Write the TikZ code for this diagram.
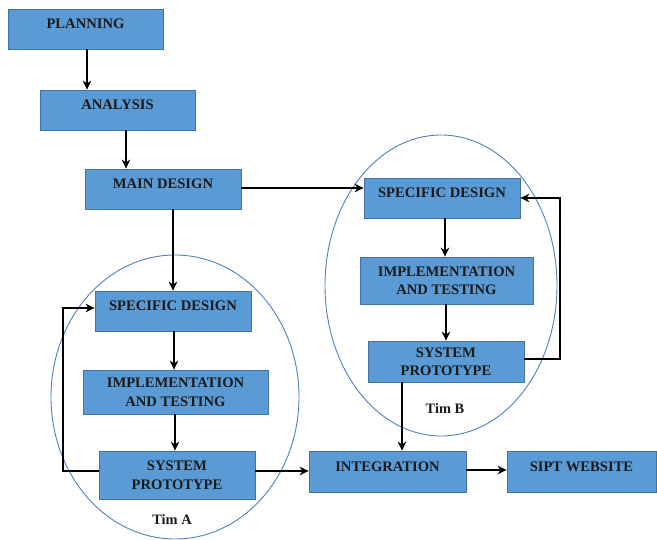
\documentclass[tikz,border=0pt]{standalone}
\usepackage{fontspec}
\setmainfont{Liberation Serif}
\usetikzlibrary{arrows.meta}
\definecolor{boxfill}{HTML}{5B9BD5}
\definecolor{boxline}{HTML}{41719C}
\definecolor{ellline}{HTML}{4F81BD}
\definecolor{txt}{HTML}{1A1A1A}
\begin{document}
\begin{tikzpicture}[x=1pt,y=-1pt,
 stepbox/.style={draw=boxline, fill=boxfill, line width=0.8pt, inner sep=0pt,
   font=\bfseries\fontsize{14.6}{18.5}\selectfont, text=txt, align=center},
 one/.style={text height=5pt, text depth=5pt},
 arr/.style={line width=2.2pt, -{Stealth[length=9pt,width=8.5pt]}},
 ell/.style={draw=ellline, line width=0.9pt},
 timlabel/.style={font=\bfseries\fontsize{14.4}{16}\selectfont, text=txt, inner sep=0pt}]
\useasboundingbox (0,0) rectangle (657,540);
\fill[white] (0,0) rectangle (657,540);

% ellipses
\draw[ell] (175,397) ellipse [x radius=124pt, y radius=142pt];
\draw[ell] (441,285.5) ellipse [x radius=116pt, y radius=150.5pt];

% boxes
\node[stepbox, one, minimum width=155pt, minimum height=40pt] (plan) at (85.5,29) {PLANNING};
\node[stepbox, one, minimum width=155pt, minimum height=40pt] (ana) at (117.5,110) {ANALYSIS};
\node[stepbox, one, minimum width=156pt, minimum height=40pt] (main) at (163,189) {MAIN DESIGN};

\node[stepbox, one, minimum width=156pt, minimum height=40pt] (sdB) at (442,198) {SPECIFIC DESIGN};
\node[stepbox, minimum width=173pt, minimum height=47pt] (imB) at (446.5,280.5) {IMPLEMENTATION\\AND TESTING};
\node[stepbox, minimum width=156pt, minimum height=41pt] (syB) at (446,361.5) {SYSTEM\\PROTOTYPE};

\node[stepbox, one, minimum width=156pt, minimum height=40pt] (sdA) at (173,311) {SPECIFIC DESIGN};
\node[stepbox, minimum width=185pt, minimum height=44pt] (imA) at (175.5,392) {IMPLEMENTATION\\AND TESTING};
\node[stepbox, minimum width=156pt, minimum height=48pt] (syA) at (177,475) {SYSTEM\\PROTOTYPE};

\node[stepbox, one, minimum width=157pt, minimum height=41pt] (integ) at (387.5,471.5) {INTEGRATION};
\node[stepbox, one, minimum width=149pt, minimum height=41pt] (sipt) at (581.5,471.5) {SIPT WEBSITE};

% labels
\node[timlabel] (timA) at (172,520) {Tim A};
\node[timlabel] (timB) at (445,409) {Tim B};

% column / row helper coordinates
\coordinate (c87) at (87,0);
\coordinate (c126) at (126,0);
\coordinate (c173) at (173,0);
\coordinate (c174) at (174,0);
\coordinate (c175) at (175,0);
\coordinate (c445) at (445,0);
\coordinate (c446) at (446,0);
\coordinate (c402) at (402,0);
\coordinate (r188) at (0,188);
\coordinate (r471) at (0,471);
\coordinate (r470) at (0,470);
\coordinate (fbA1) at (63,471);
\coordinate (fbA2) at (63,308);
\coordinate (fbB1) at (560,359);
\coordinate (fbB2) at (560,198);

% arrows
\draw[arr] (plan.south -| c87) -- (ana.north -| c87);
\draw[arr] (ana.south -| c126) -- (main.north -| c126);
\draw[arr] (main.east |- r188) -- (sdB.west |- r188);
\draw[arr] (main.south -| c173) -- (sdA.north -| c173);
\draw[arr] (sdA.south -| c174) -- (imA.north -| c174);
\draw[arr] (imA.south -| c175) -- (syA.north -| c175);
\draw[arr] (syA.west |- fbA1) -- (fbA1) -- (fbA2) -- (sdA.west |- fbA2);
\draw[arr] (syA.east |- r471) -- (integ.west |- r471);
\draw[arr] (sdB.south -| c445) -- (imB.north -| c445);
\draw[arr] (imB.south -| c446) -- (syB.north -| c446);
\draw[arr] (syB.east |- fbB1) -- (fbB1) -- (fbB2) -- (sdB.east |- fbB2);
\draw[arr] (syB.south -| c402) -- (integ.north -| c402);
\draw[arr] (integ.east |- r470) -- (sipt.west |- r470);
\end{tikzpicture}
\end{document}
